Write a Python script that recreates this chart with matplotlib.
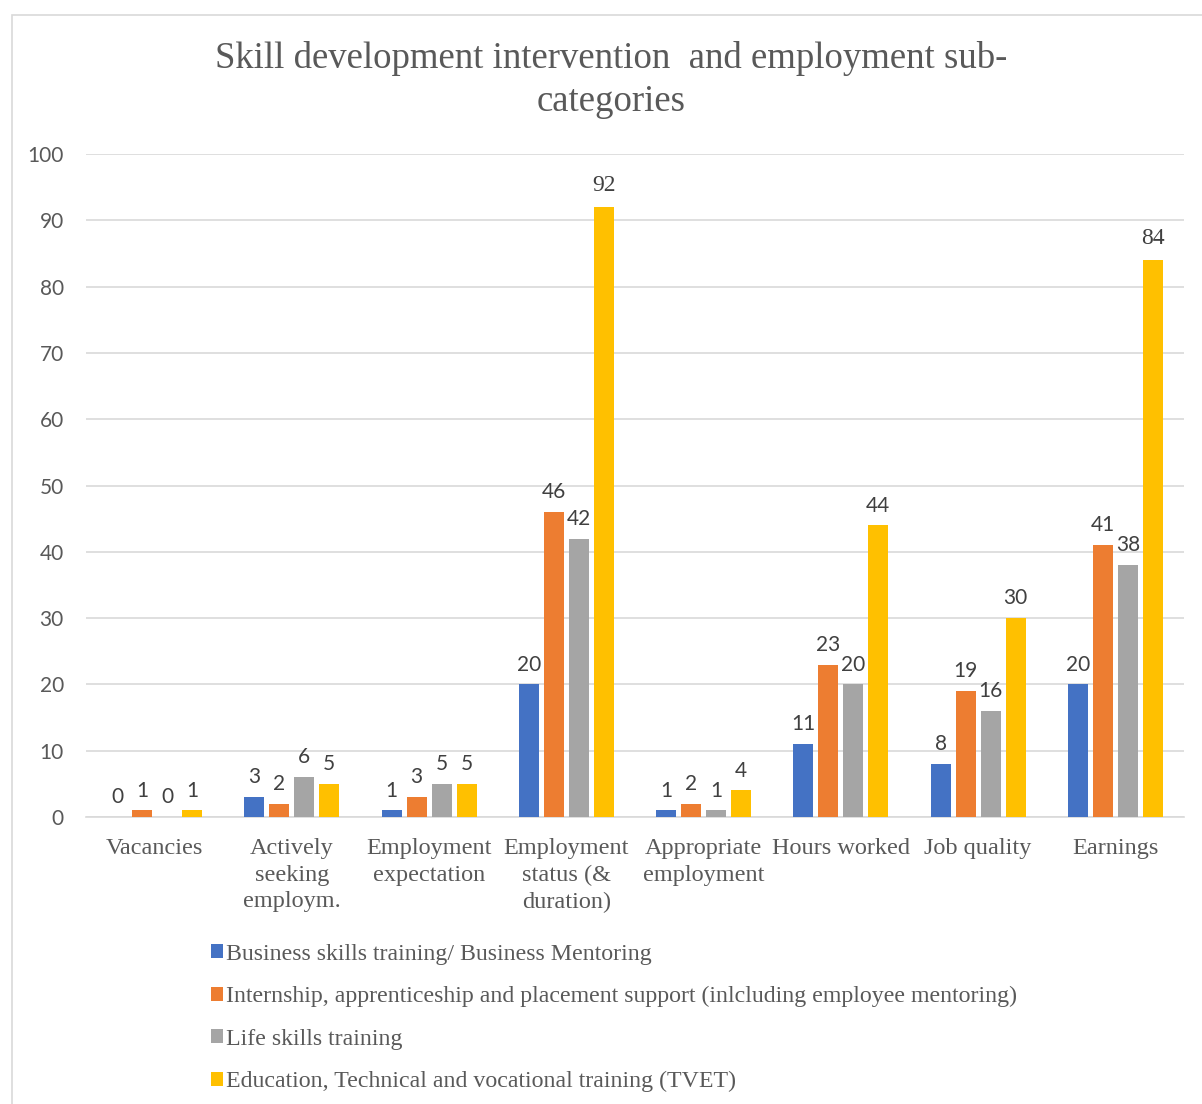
import matplotlib
matplotlib.use("Agg")
import matplotlib.pyplot as plt
import numpy as np
from matplotlib.patches import Rectangle, Patch

categories = ["Vacancies", "Actively\nseeking\nemploym.", "Employment\nexpectation",
              "Employment\nstatus (&\nduration)", "Appropriate\nemployment",
              "Hours worked", "Job quality", "Earnings"]
series_names = ["Business skills training/ Business Mentoring",
                "Internship, apprenticeship and placement support (inlcluding employee mentoring)",
                "Life skills training",
                "Education, Technical and vocational training (TVET)"]
business = [0, 3, 1, 20, 1, 11, 8, 20]
internship = [1, 2, 3, 46, 2, 23, 19, 41]
life = [0, 6, 5, 42, 1, 20, 16, 38]
tvet = [1, 5, 5, 92, 4, 44, 30, 84]
yticks = [0, 10, 20, 30, 40, 50, 60, 70, 80, 90, 100]
# labels drawn in serif in the original (series index, category index)
serif_labels = {(3, 3), (3, 7)}

colors = ["#4472C4", "#ED7D31", "#A5A5A5", "#FFC000"]
serif = "Liberation Serif"
sans = "Lato"
txt = "#595959"

fig = plt.figure(figsize=(12.02, 11.04), dpi=100)
fig.patches.append(Rectangle((12/1202, -0.01), 1.2, 1 - 15/1104 + 0.01, transform=fig.transFigure,
                             fill=False, edgecolor="#D9D9D9", linewidth=1.2))
ax = fig.add_axes([86/1202, 1 - 817/1104, (1184-86)/1202, (817-154)/1104])

x = np.arange(len(categories))
w = 0.146
step = 0.182
data = [business, internship, life, tvet]
for i, (vals, c) in enumerate(zip(data, colors)):
    pos = x + (i - 1.5) * step
    ax.bar(pos, vals, width=w, color=c, zorder=3)
    for j, (p, v) in enumerate(zip(pos, vals)):
        is_serif = (i, j) in serif_labels
        ax.annotate(str(v), (p, v), xytext=(0, 8 if is_serif else 7), textcoords="offset points",
                    ha="center", va="bottom", fontsize=17 if is_serif else 15,
                    family=serif if is_serif else sans, color="#404040")

ax.set_xlim(-0.5, len(categories) - 0.5)
ax.set_ylim(0, 100)
ax.set_yticks(yticks)
ax.yaxis.grid(True, color="#D9D9D9", linewidth=1.2, zorder=0)
for s in ["top", "right", "left"]:
    ax.spines[s].set_visible(False)
ax.spines["bottom"].set_color("#D9D9D9")
ax.spines["bottom"].set_linewidth(1.2)
ax.tick_params(axis="both", length=0)
ax.tick_params(axis="y", pad=16)
ax.tick_params(axis="x", pad=15)
ax.set_xticks(x)
ax.set_xticklabels(categories, family=serif, fontsize=17.5, color=txt, linespacing=1.36)
for lab in ax.get_yticklabels():
    lab.set_family(sans)
    lab.set_fontsize(15)
    lab.set_color(txt)

fig.text(611/1202, 1 - 80/1104, "Skill development intervention  and employment sub-\ncategories",
         ha="center", va="center", family=serif, fontsize=26.5, color=txt, linespacing=1.3)

handles = [Patch(facecolor=c, edgecolor="none") for c in colors]
leg = fig.legend(handles, series_names, loc="upper left", bbox_to_anchor=(201/1202, 1 - 934/1104),
                 frameon=False, prop={"family": serif, "size": 17.2}, handlelength=0.5,
                 handleheight=0.5, handletextpad=0.15, labelspacing=0.9, borderaxespad=0)
for t in leg.get_texts():
    t.set_color(txt)

fig.savefig("out.png", dpi=100)
